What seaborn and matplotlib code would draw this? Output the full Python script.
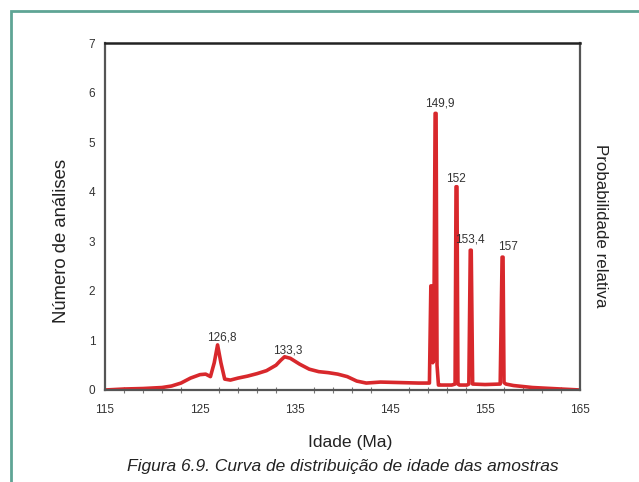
import matplotlib
matplotlib.use("Agg")
import matplotlib.pyplot as plt
from matplotlib.patches import Rectangle
from matplotlib.ticker import MultipleLocator
import seaborn as sns
import pandas as pd

# Age distribution curve (Ma vs. number of analyses)
age = [115, 117, 119, 121, 122, 123, 124, 125, 125.6, 126.1, 126.5, 126.85, 127.2, 127.6,
       128.2, 129, 130, 131, 132, 133, 133.5, 133.9, 134.5, 135.5, 136.5, 137.5, 138.5,
       139.5, 140.5, 141.5, 142.5, 144, 146, 148, 149.15, 149.3, 149.4, 149.5, 149.6,
       149.75, 149.85, 149.95, 150.1, 150.3, 151.5, 151.85, 151.95, 152.05, 152.15, 152.3,
       153.1, 153.3, 153.45, 153.55, 153.7, 155, 156.6, 156.8, 156.9, 157.0, 157.2,
       158, 160, 162, 165]
count = [0.0, 0.02, 0.03, 0.05, 0.08, 0.14, 0.24, 0.31, 0.32, 0.27, 0.55, 0.91, 0.55, 0.22,
         0.2, 0.24, 0.28, 0.33, 0.39, 0.5, 0.6, 0.67, 0.64, 0.52, 0.42, 0.37, 0.35,
         0.32, 0.27, 0.18, 0.14, 0.16, 0.15, 0.14, 0.14, 2.1, 2.1, 0.55, 0.6,
         5.58, 5.58, 0.5, 0.1, 0.1, 0.1, 0.12, 4.1, 4.1, 0.12, 0.1,
         0.1, 0.12, 2.82, 2.82, 0.12, 0.11, 0.12, 2.68, 2.68, 0.15, 0.12,
         0.09, 0.05, 0.03, 0.0]

peak_labels = ["126,8", "133,3", "149,9", "152", "153,4", "157"]
peak_x = [127.3, 134.2, 150.2, 151.9, 153.4, 157.4]
peak_y = [1.06, 0.79, 5.77, 4.25, 3.03, 2.88]

df = pd.DataFrame({"Idade": age, "N": count})

sns.set_style("white")
plt.rcParams['font.family'] = ['Liberation Sans', 'DejaVu Sans']

fig = plt.figure(figsize=(6.39, 4.82), dpi=100)
fig.patch.set_facecolor("white")
ax = fig.add_axes([105/639, 1 - 390/482, 475/639, 347/482])

sns.lineplot(data=df, x="Idade", y="N", ax=ax, color="#d8282c", linewidth=2.6,
             estimator=None, sort=False)

ax.set_xlim(115, 165)
ax.set_ylim(0, 7)
ax.set_xticks([115, 125, 135, 145, 155, 165])
ax.set_yticks(range(0, 8))
ax.xaxis.set_minor_locator(MultipleLocator(2, offset=1))
ax.tick_params(axis="both", which="major", direction="inout", length=6, width=1,
               colors="#555555", labelcolor="#333333", labelsize=8.5, pad=4)
ax.tick_params(axis="x", which="minor", direction="inout", length=4, width=0.8,
               colors="#777777", bottom=True)
ax.tick_params(axis="x", pad=7)

for side in ["left", "bottom", "right"]:
    ax.spines[side].set_color("#555555")
    ax.spines[side].set_linewidth(1.6)
ax.spines["top"].set_color("#222222")
ax.spines["top"].set_linewidth(1.8)

ax.set_xlabel("")
ax.set_ylabel("")

for lab, px, py in zip(peak_labels, peak_x, peak_y):
    ax.text(px, py, lab, ha="center", va="center", fontsize=8.5, color="#333333")

fig.text(350/639, 1 - 443/482, "Idade (Ma)", ha="center", va="center",
         fontsize=12.6, color="#222222")
fig.text(62/639, 1 - 241/482, "Número de análises", rotation=90,
         ha="center", va="center", fontsize=13.3, color="#222222")
fig.text(600/639, 1 - 226/482, "Probabilidade relativa", rotation=270,
         ha="center", va="center", fontsize=12.2, color="#222222")
fig.text(343/639, 1 - 467/482, "Figura 6.9. Curva de distribuição de idade das amostras",
         ha="center", va="center", fontsize=12.5, style="italic", color="#222222")

border = Rectangle((11/639, -0.1), 1.2, (482 - 11)/482 + 0.1, transform=fig.transFigure,
                   fill=False, edgecolor="#5fa595", linewidth=2.0, clip_on=False)
fig.patches.append(border)

fig.savefig("out.png", dpi=100, facecolor="white")
